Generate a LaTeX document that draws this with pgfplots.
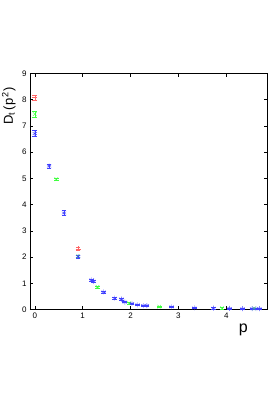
\documentclass[border=0pt]{standalone}
\usepackage{fontspec}
\setmainfont{Liberation Sans}
\usepackage{pgfplots}
\pgfplotsset{compat=1.18}
\colorlet{cr}{red!60}
\colorlet{cg}{green!75}
\colorlet{cb}{blue!75}
\begin{document}
\begin{tikzpicture}[x=1pt,y=1pt]
\path[use as bounding box] (0,0) rectangle (280,400);
\begin{axis}[
  at={(30pt,90.5pt)}, anchor=south west,
  scale only axis, width=237pt, height=236pt,
  xmin=-0.1, xmax=4.85, ymin=0, ymax=9,
  xtick={0,1,2,3,4}, ytick={0,1,...,9},
  tick align=inside, major tick length=3.5pt,
  axis line style={line width=0.8pt},
  tick style={line width=0.5pt, black},
  /pgf/number format/assume math mode=true,
  tick label style={font=\fontsize{8}{9}\selectfont},
  xlabel={p},
  xlabel style={font=\fontsize{16}{18}\selectfont, at={(rel axis cs:0.90,0)}, anchor=north, yshift=-11pt},
  ylabel={D\textsubscript{t}\,(p\textsuperscript{\,2})},
  ylabel style={font=\fontsize{13}{15}\selectfont, at={(rel axis cs:0,0.862)}, anchor=south, yshift=11pt},
  error bars/error mark options={rotate=90, mark size=2.3pt, line width=0.4pt},
]
\addplot[only marks, cr, mark=+, mark size=2.5pt, line width=0.4pt,
  error bars/.cd, y dir=both, y explicit]
  table[x=x, y=y, y error=e]{
x y e
0 8.08 0.10
0.906 2.31 0.05
};
\addplot[only marks, cg, mark=x, mark size=2.5pt, line width=0.4pt,
  error bars/.cd, y dir=both, y explicit]
  table[x=x, y=y, y error=e]{
x y e
0 7.45 0.12
0.45 4.97 0.05
0.906 2.03 0.05
1.31 0.86 0.03
1.97 0.24 0.02
2.60 0.11 0.02
3.91 0.05 0.02
4.58 0.04 0.02
};
\addplot[only marks, cb, mark=asterisk, mark size=2.5pt, line width=0.4pt,
  error bars/.cd, y dir=both, y explicit]
  table[x=x, y=y, y error=e]{
x y e
0 6.71 0.12
0.30 5.47 0.09
0.61 3.68 0.10
0.906 2.02 0.05
1.19 1.13 0.04
1.23 1.08 0.04
1.44 0.67 0.03
1.67 0.43 0.03
1.81 0.40 0.03
1.88 0.28 0.02
2.03 0.23 0.02
2.15 0.18 0.02
2.27 0.15 0.02
2.34 0.15 0.02
2.86 0.10 0.02
3.33 0.06 0.02
3.73 0.05 0.02
4.07 0.04 0.02
4.34 0.03 0.02
4.54 0.03 0.02
4.62 0.03 0.02
4.69 0.03 0.02
};
\end{axis}
\end{tikzpicture}
\end{document}
